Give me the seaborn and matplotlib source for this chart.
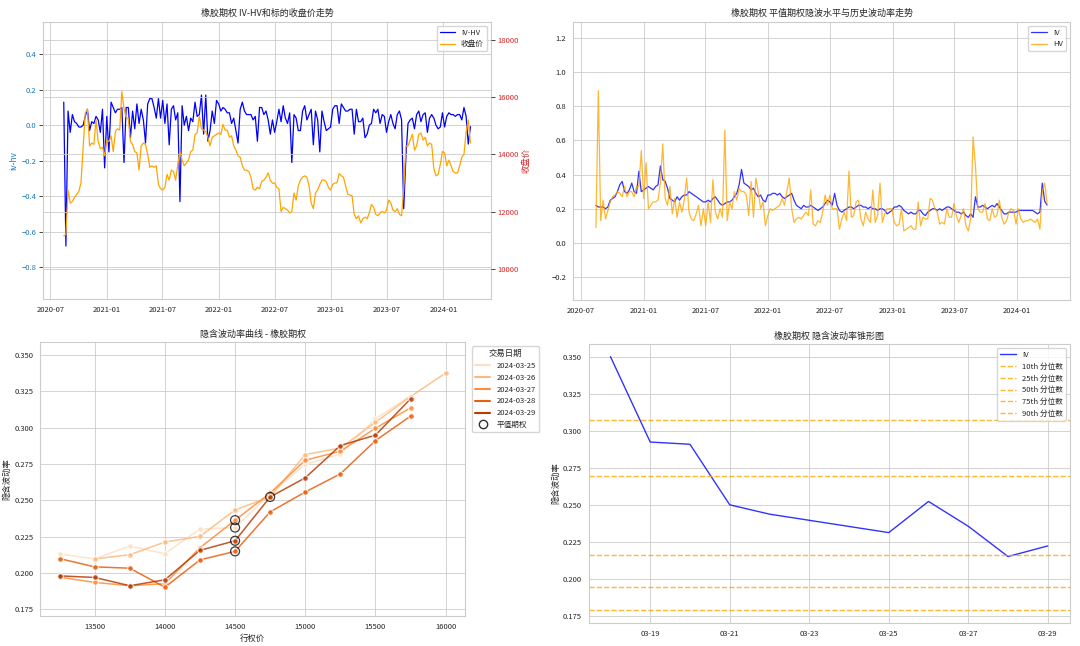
import numpy as np
import pandas as pd
import matplotlib
matplotlib.use("Agg")
import matplotlib.pyplot as plt
import matplotlib.dates as mdates
from matplotlib.lines import Line2D
import seaborn as sns

# ---------------- data ----------------
week_start = "2020-08-14"   # weekly samples (Fridays) up to 2024-03-29

close_price = [
    11150, 11200, 12750, 12300, 12350, 12500, 12600, 12700, 13000, 14200,
    15450, 15580, 14300, 14400, 14350, 15200, 14450, 14200, 14250, 13950,
    14500, 14450, 14650, 14100, 14800, 14900, 14850, 16200, 15600, 15300,
    15250, 14450, 14350, 14100, 14050, 13450, 14300, 14400, 14350, 14000,
    13550, 13600, 13550, 13600, 12950, 12800, 12750, 12850, 13300, 13100,
    13450, 13400, 13100, 13650, 14100, 13800, 13600, 13700, 13800, 14100,
    14150, 14700, 14750, 15350, 14900, 14850, 14800, 14600, 14300, 14600,
    14650, 14700, 14750, 14700, 15050, 14850, 14850, 14600, 14650, 14300,
    14150, 13950, 13900, 13600, 13450, 13450, 13400, 13200, 12800, 12750,
    12850, 12800, 13050, 13100, 13200, 13350, 13100, 12990, 13000, 12850,
    12800, 12000, 12150, 12100, 12050, 11950, 12000, 12650, 12400, 12900,
    13100, 13200, 13250, 13200, 12900, 12300, 12100, 12650, 12750, 12950,
    13100, 13100, 13050, 12850, 12750, 12950, 13000, 13000, 13330, 13250,
    13200, 12900, 12600, 12580, 12550, 11900, 11750, 11850, 11600, 11750,
    11800, 11750, 11950, 12250, 12150, 11900, 11850, 11950, 12000, 11950,
    12050, 12400, 12300, 12050, 12000, 12100, 11900, 11850, 12800, 14300,
    14300, 14500, 14700, 14150, 14300, 14700, 14750, 14500, 14600, 14300,
    14400, 14350, 13500, 13250, 13300, 13650, 14100, 14050, 13600, 13800,
    13600, 13400, 13350, 13350, 13600, 13900, 14000, 14800, 15200, 14400,
]

atm_iv = [
    0.22, 0.21, 0.21, 0.21, 0.20, 0.21, 0.25, 0.26, 0.27, 0.30,
    0.34, 0.36, 0.30, 0.29, 0.31, 0.35, 0.30, 0.29, 0.42, 0.30,
    0.31, 0.32, 0.33, 0.32, 0.31, 0.33, 0.34, 0.45, 0.37, 0.36,
    0.32, 0.26, 0.25, 0.24, 0.27, 0.25, 0.27, 0.28, 0.28, 0.30,
    0.29, 0.28, 0.27, 0.26, 0.25, 0.24, 0.24, 0.25, 0.24, 0.26,
    0.27, 0.25, 0.23, 0.22, 0.23, 0.24, 0.24, 0.25, 0.27, 0.29,
    0.34, 0.43, 0.35, 0.34, 0.33, 0.31, 0.32, 0.29, 0.27, 0.28,
    0.25, 0.24, 0.28, 0.28, 0.29, 0.29, 0.28, 0.29, 0.27, 0.26,
    0.27, 0.28, 0.29, 0.25, 0.22, 0.21, 0.20, 0.22, 0.21, 0.21,
    0.22, 0.21, 0.20, 0.19, 0.20, 0.21, 0.23, 0.25, 0.24, 0.22,
    0.29, 0.22, 0.19, 0.18, 0.19, 0.20, 0.21, 0.21, 0.20, 0.21,
    0.22, 0.22, 0.21, 0.21, 0.20, 0.21, 0.20, 0.20, 0.19, 0.20,
    0.20, 0.19, 0.17, 0.18, 0.19, 0.21, 0.21, 0.22, 0.21, 0.19,
    0.18, 0.17, 0.18, 0.17, 0.17, 0.19, 0.19, 0.17, 0.16, 0.18,
    0.19, 0.20, 0.20, 0.19, 0.20, 0.19, 0.20, 0.21, 0.21, 0.20,
    0.19, 0.18, 0.18, 0.17, 0.18, 0.16, 0.15, 0.17, 0.15, 0.27,
    0.21, 0.21, 0.22, 0.21, 0.20, 0.21, 0.22, 0.21, 0.23, 0.21,
    0.19, 0.17, 0.17, 0.18, 0.18, 0.18, 0.18, 0.19, 0.19, 0.19,
    0.19, 0.19, 0.19, 0.19, 0.18, 0.17, 0.18, 0.35, 0.244, 0.222,
]

hist_vol = [
    0.09, 0.89, 0.13, 0.25, 0.14, 0.19, 0.24, 0.27, 0.28, 0.30,
    0.29, 0.27, 0.33, 0.27, 0.30, 0.30, 0.27, 0.33, 0.33, 0.54,
    0.26, 0.47, 0.20, 0.22, 0.24, 0.24, 0.25, 0.35, 0.58, 0.26,
    0.22, 0.33, 0.17, 0.26, 0.15, 0.24, 0.18, 0.25, 0.38, 0.18,
    0.14, 0.13, 0.17, 0.22, 0.10, 0.20, 0.10, 0.24, 0.12, 0.37,
    0.18, 0.14, 0.20, 0.15, 0.66, 0.13, 0.24, 0.20, 0.30, 0.25,
    0.32, 0.30, 0.30, 0.28, 0.16, 0.36, 0.15, 0.38, 0.30, 0.20,
    0.24, 0.10, 0.16, 0.20, 0.19, 0.20, 0.21, 0.22, 0.26, 0.22,
    0.30, 0.38, 0.20, 0.12, 0.14, 0.15, 0.14, 0.16, 0.18, 0.16,
    0.31, 0.11, 0.10, 0.13, 0.12, 0.18, 0.28, 0.22, 0.28, 0.20,
    0.20, 0.20, 0.08, 0.14, 0.18, 0.13, 0.42, 0.15, 0.16, 0.24,
    0.25, 0.14, 0.10, 0.18, 0.14, 0.12, 0.31, 0.12, 0.16, 0.35,
    0.12, 0.17, 0.20, 0.20, 0.20, 0.12, 0.10, 0.11, 0.20, 0.07,
    0.08, 0.09, 0.10, 0.08, 0.08, 0.24, 0.10, 0.15, 0.14, 0.14,
    0.26, 0.25, 0.20, 0.18, 0.11, 0.12, 0.11, 0.20, 0.15, 0.15,
    0.23, 0.16, 0.12, 0.16, 0.20, 0.10, 0.07, 0.14, 0.62, 0.45,
    0.20, 0.18, 0.18, 0.23, 0.14, 0.13, 0.20, 0.15, 0.16, 0.25,
    0.15, 0.11, 0.13, 0.18, 0.20, 0.19, 0.11, 0.20, 0.14, 0.12,
    0.13, 0.13, 0.14, 0.13, 0.12, 0.14, 0.08, 0.30, 0.35, 0.23,
]

# volatility smile
smile_strikes = [13250, 13500, 13750, 14000, 14250, 14500, 14750,
                 15000, 15250, 15500, 15750, 16000]
smile_dates = ["2024-03-25", "2024-03-26", "2024-03-27", "2024-03-28", "2024-03-29"]
iv_0325 = [0.2130, 0.2096, 0.2185, 0.2132, 0.2301, 0.2312, 0.2545,
           0.2747, 0.2819, 0.3062, 0.3220, np.nan]
iv_0326 = [np.nan, 0.2096, 0.2125, 0.2212, 0.2251, 0.2434, 0.2523,
           0.2815, 0.2860, 0.3038, 0.3215, 0.3377]
iv_0327 = [0.1970, 0.1934, 0.1911, 0.1925, 0.2173, 0.2363, 0.2550,
           0.2776, 0.2838, 0.2997, 0.3137, np.nan]
iv_0328 = [0.2098, 0.2041, 0.2032, 0.1901, 0.2089, 0.2148, 0.2420,
           0.2557, 0.2682, 0.2911, 0.3080, np.nan]
iv_0329 = [0.1979, 0.1968, 0.1911, 0.1952, 0.2155, 0.2221, 0.2523,
           0.2655, 0.2877, 0.2949, 0.3199, np.nan]
atm_strikes = [14500, 14750, 14500, 14500, 14500]

# volatility cone
cone_dates = ["2024-03-18", "2024-03-19", "2024-03-20", "2024-03-21", "2024-03-22",
              "2024-03-25", "2024-03-26", "2024-03-27", "2024-03-28", "2024-03-29"]
cone_iv = [0.3503, 0.2925, 0.2910, 0.2500, 0.2437, 0.2312, 0.2523, 0.2355, 0.2150, 0.2222]
quantile_labels = ["10th", "25th", "50th", "75th", "90th"]
quantile_values = [0.1788, 0.1941, 0.2158, 0.2698, 0.3073]

# ---------------- style ----------------
sns.set_theme(style="whitegrid")
plt.rcParams["font.family"] = ["Noto Sans CJK SC", "DejaVu Sans"]
plt.rcParams.update({
    "xtick.labelsize": 5.5, "ytick.labelsize": 5.5,
    "axes.titlesize": 6.5, "axes.labelsize": 6,
    "legend.fontsize": 5.5, "legend.title_fontsize": 6,
    "grid.linewidth": 0.6, "axes.linewidth": 0.8,
    "ytick.major.size": 3, "xtick.major.size": 3,
    "ytick.major.width": 0.6, "xtick.major.width": 0.6,
    "ytick.major.pad": 2, "xtick.major.pad": 2,
    "axes.titlepad": 4, "axes.labelpad": 2,
})

fig = plt.figure(figsize=(10.8, 6.46), dpi=100)
ax_tl = fig.add_axes([0.0402, 0.5367, 0.4142, 0.4297])
ax_tr = fig.add_axes([0.5309, 0.5361, 0.4595, 0.4303])
ax_bl = fig.add_axes([0.0373, 0.0464, 0.3932, 0.4237])
ax_br = fig.add_axes([0.5450, 0.0361, 0.4454, 0.4314])

dates = pd.date_range(week_start, periods=len(close_price), freq="7D")
ts = pd.DataFrame({"date": dates, "close": close_price, "iv": atm_iv, "hv": hist_vol})
ts["iv_hv"] = ts["iv"] - ts["hv"]

date_loc = mdates.MonthLocator(bymonth=(1, 7))
date_fmt = mdates.DateFormatter("%Y-%m")

# ---- top-left: IV-HV and close ----
sns.lineplot(data=ts, x="date", y="iv_hv", ax=ax_tl, color="blue", lw=0.9, label="IV-HV", legend=False)
ax_tl2 = ax_tl.twinx()
sns.lineplot(data=ts, x="date", y="close", ax=ax_tl2, color="orange", lw=0.9, label="收盘价", legend=False)
ax_tl.set_ylim(-0.98, 0.583)
ax_tl2.set_ylim(8927, 18647)
ax_tl.set_xlabel("")
ax_tl.set_ylabel("iv-hv", color="tab:blue")
ax_tl2.set_ylabel("收盘价", color="tab:red")
ax_tl.tick_params(axis="y", labelcolor="tab:blue")
ax_tl2.tick_params(axis="y", labelcolor="tab:red")
ax_tl.xaxis.set_major_locator(date_loc)
ax_tl.xaxis.set_major_formatter(date_fmt)
ax_tl.set_title("橡胶期权 IV-HV和标的收盘价走势")
h1, l1 = ax_tl.get_legend_handles_labels()
h2, l2 = ax_tl2.get_legend_handles_labels()
ax_tl2.legend(h1 + h2, l1 + l2, loc="upper right")
for sp in ax_tl2.spines.values():
    sp.set_visible(False)

# ---- top-right: IV and HV ----
sns.lineplot(data=ts, x="date", y="iv", ax=ax_tr, color="blue", lw=0.9, alpha=0.8, label="IV")
sns.lineplot(data=ts, x="date", y="hv", ax=ax_tr, color="orange", lw=0.9, alpha=0.8, label="HV")
ax_tr.set_ylim(-0.332, 1.294)
ax_tr.set_xlabel("")
ax_tr.set_ylabel("")
ax_tr.xaxis.set_major_locator(mdates.MonthLocator(bymonth=(1, 7)))
ax_tr.xaxis.set_major_formatter(mdates.DateFormatter("%Y-%m"))
ax_tr.set_title("橡胶期权 平值期权隐波水平与历史波动率走势")
ax_tr.legend(loc="upper right")

# ---- bottom-right: volatility cone ----
cone = pd.DataFrame({"date": pd.to_datetime(cone_dates), "iv": cone_iv})
sns.lineplot(data=cone, x="date", y="iv", ax=ax_br, color="blue", lw=1.0, alpha=0.8, label="IV")
for lbl, q in zip(quantile_labels, quantile_values):
    ax_br.axhline(q, color="orange", ls="--", lw=1.0, alpha=0.8, label=f"{lbl} 分位数")
ax_br.xaxis.set_major_locator(mdates.DayLocator(bymonthday=range(1, 32, 2)))
ax_br.xaxis.set_major_formatter(mdates.DateFormatter("%m-%d"))
ax_br.set_xlabel("")
ax_br.set_ylabel("隐含波动率")
ax_br.set_title("橡胶期权 隐含波动率锥形图")
ax_br.legend(loc="upper right")

# ---- bottom-left: smile ----
smile_series = [iv_0325, iv_0326, iv_0327, iv_0328, iv_0329]
rows = []
for d, vals in zip(smile_dates, smile_series):
    for k, v in zip(smile_strikes, vals):
        if not np.isnan(v):
            rows.append({"交易日期": d, "strike": k, "iv": v})
smile = pd.DataFrame(rows)
pal = sns.color_palette("Oranges", len(smile_dates))
sns.lineplot(data=smile, x="strike", y="iv", hue="交易日期", palette=pal,
             marker="o", markersize=4, lw=1.1, alpha=0.85, ax=ax_bl, legend=False)
atm_x, atm_y = [], []
for d, vals, k in zip(smile_dates, smile_series, atm_strikes):
    atm_x.append(k)
    atm_y.append(vals[smile_strikes.index(k)])
ax_bl.scatter(atm_x, atm_y, s=42, facecolors="none", edgecolors="black",
              linewidths=0.9, alpha=0.75, zorder=5)
ax_bl.set_ylim(ax_br.get_ylim())
ax_bl.set_xlabel("行权价")
ax_bl.set_ylabel("隐含波动率")
ax_bl.set_title("隐含波动率曲线 - 橡胶期权")
handles = [Line2D([], [], color=c, lw=1.5) for c in pal]
handles.append(Line2D([], [], marker="o", ls="", mfc="none", mec="#333333", mew=1.0, ms=6))
ax_bl.legend(handles, smile_dates + ["平值期权"], title="交易日期",
             loc="upper left", bbox_to_anchor=(1.008, 1.0))

fig.savefig("out.png", dpi=100)
